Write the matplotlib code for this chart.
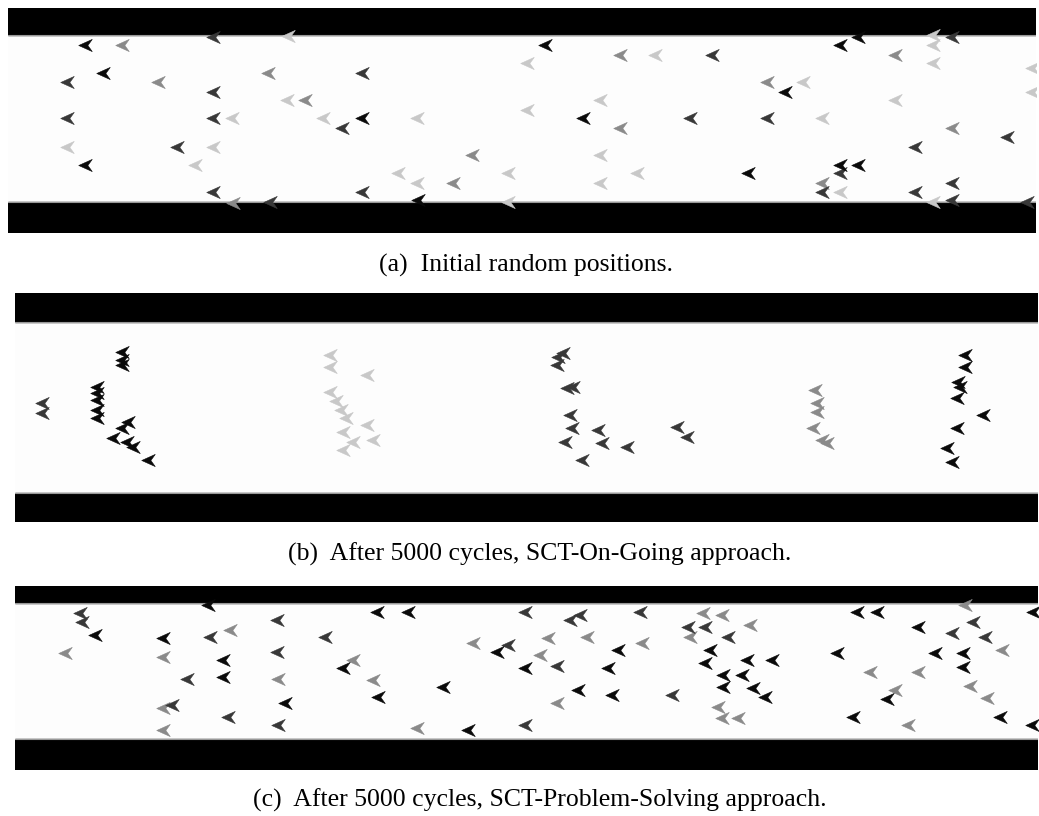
import matplotlib
matplotlib.use('Agg')
import matplotlib.pyplot as plt
from matplotlib.path import Path
import numpy as np

# boid positions (image pixel coordinates), grouped by shade
# --- (a) initial random positions ---
a_black = [(85, 45), (103, 73), (85, 165), (545, 45), (362, 118), (583, 118), (418, 200),
           (840, 45), (858, 37), (785, 92), (748, 173), (840, 165), (858, 165)]
a_dark = [(213, 37), (67, 82), (213, 92), (67, 118), (213, 118), (342, 128), (177, 147),
          (213, 192), (270, 202), (362, 73), (690, 118), (362, 192), (712, 55), (767, 118),
          (1007, 137), (915, 147), (840, 173), (822, 192), (915, 192), (952, 183),
          (952, 37), (952, 200), (1027, 202)]
a_mid = [(122, 45), (158, 82), (268, 73), (305, 100), (233, 203), (620, 55), (620, 128),
         (472, 155), (453, 183), (767, 82), (895, 55), (952, 128), (822, 183)]
a_light = [(288, 36), (287, 100), (232, 118), (323, 118), (67, 147), (213, 147), (195, 165),
           (655, 55), (527, 63), (600, 100), (527, 110), (417, 118), (600, 155), (398, 173),
           (508, 173), (637, 173), (417, 183), (600, 183), (508, 202), (933, 35), (933, 45),
           (933, 63), (803, 82), (1032, 68), (1032, 92), (895, 100), (822, 118), (840, 192),
           (933, 202)]

# --- (b) SCT-On-Going ---
b_black = [(122, 352), (122, 360), (122, 365), (97, 387), (97, 393), (97, 400), (97, 410),
           (97, 418), (128, 422), (122, 428), (113, 438), (127, 442), (133, 447), (148, 460),
           (965, 355), (965, 367), (958, 382), (960, 387), (957, 398), (983, 415), (957, 428),
           (947, 448), (952, 462)]
b_dark = [(42, 403), (42, 413), (563, 353), (558, 357), (557, 365), (567, 388), (573, 387),
          (570, 415), (572, 428), (565, 442), (598, 430), (602, 443), (627, 447), (582, 460),
          (677, 427), (687, 437)]
b_mid = [(815, 390), (817, 403), (817, 412), (813, 428), (822, 440), (827, 443)]
b_light = [(330, 355), (330, 367), (330, 392), (336, 401), (341, 410), (346, 418), (343, 432),
           (343, 450), (367, 375), (367, 425), (373, 440), (353, 442)]

# --- (c) SCT-Problem-Solving ---
c_black = [(95, 635), (208, 605), (163, 638), (223, 660), (223, 677), (343, 668), (285, 703),
           (377, 612), (408, 612), (497, 652), (618, 650), (525, 668), (608, 668), (378, 697),
           (443, 687), (578, 690), (612, 695), (468, 730), (710, 650), (705, 663), (747, 660),
           (772, 660), (723, 675), (742, 675), (723, 687), (753, 688), (765, 697), (857, 612),
           (877, 612), (1033, 612), (918, 627), (837, 653), (935, 653), (963, 653), (963, 667),
           (887, 699), (853, 717), (1000, 717), (1032, 725)]
c_dark = [(80, 613), (82, 622), (210, 637), (277, 620), (277, 652), (187, 679), (172, 705),
          (228, 717), (278, 725), (325, 637), (525, 612), (580, 615), (570, 620), (640, 612),
          (508, 645), (557, 666), (672, 695), (525, 725), (688, 627), (705, 627), (728, 637),
          (973, 622), (952, 633), (985, 637)]
c_mid = [(65, 653), (163, 657), (230, 630), (278, 679), (163, 708), (163, 730), (473, 643),
         (548, 638), (587, 637), (540, 655), (642, 643), (353, 660), (373, 680), (557, 703),
         (417, 728), (703, 613), (722, 615), (690, 637), (750, 625), (718, 707), (722, 718),
         (738, 718), (965, 605), (1002, 650), (870, 672), (918, 672), (970, 686), (895, 690),
         (987, 698), (908, 725)]

captions = ['(a)  Initial random positions.',
            '(b)  After 5000 cycles, SCT-On-Going approach.',
            '(c)  After 5000 cycles, SCT-Problem-Solving approach.']

# panel geometry in pixels: left, right, top, wall1, wall2, bottom
panels = [(8, 1036, 8, 35, 202, 233),
          (15, 1038, 293, 322, 493, 522),
          (15, 1038, 586, 603, 739, 770)]
caption_pos = [(526, 265), (540, 554), (540, 800)]

shades = {'black': '#0a0a0a', 'dark': '#383838', 'mid': '#8a8a8a', 'light': '#c8c8c8'}
groups = [
    {'black': a_black, 'dark': a_dark, 'mid': a_mid, 'light': a_light},
    {'black': b_black, 'dark': b_dark, 'mid': b_mid, 'light': b_light},
    {'black': c_black, 'dark': c_dark, 'mid': c_mid},
]

# left-pointing arrowhead marker (boid)
arrow = Path([(-1, 0), (1, 0.9), (0.35, 0), (1, -0.9), (-1, 0)],
             [Path.MOVETO, Path.LINETO, Path.LINETO, Path.LINETO, Path.CLOSEPOLY])

W, H = 1039, 816
fig = plt.figure(figsize=(W / 100, H / 100), dpi=100)

for (l, r, t, w1, w2, b), grp, cap, (cx, cy) in zip(panels, groups, captions, caption_pos):
    ax = fig.add_axes([l / W, 1 - b / H, (r - l) / W, (b - t) / H])
    ax.set_xlim(l, r)
    ax.set_ylim(b, t)
    ax.set_facecolor('#fdfdfd')
    ax.axhspan(t, w1, color='black', zorder=1)
    ax.axhspan(w2, b, color='black', zorder=1)
    ax.axhline(w1, color='#999999', lw=0.8, zorder=1.5)
    ax.axhline(w2, color='#999999', lw=0.8, zorder=1.5)
    for name in ['light', 'mid', 'dark', 'black']:
        pts = grp.get(name, [])
        if not pts:
            continue
        pts = np.array(pts)
        ax.scatter(pts[:, 0], pts[:, 1], marker=arrow, s=95, color=shades[name],
                   edgecolors=shades[name], linewidths=0.4, zorder=2)
    ax.set_xticks([])
    ax.set_yticks([])
    for s in ax.spines.values():
        s.set_visible(False)
    fig.text(cx / W, 1 - cy / H, cap, ha='center', va='center',
             fontsize=18.5, family='Liberation Serif')

fig.savefig('out.png', dpi=100)
